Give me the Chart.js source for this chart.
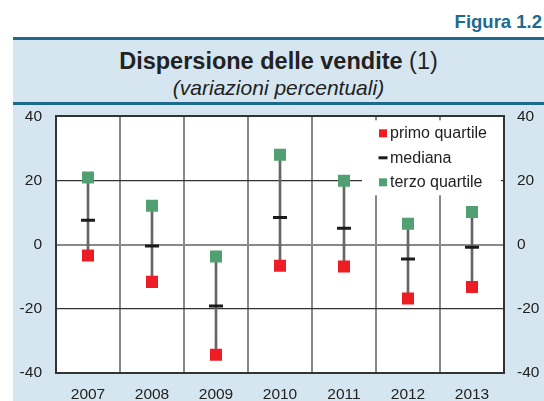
<!DOCTYPE html>
<html>
<head>
<meta charset="utf-8">
<script src="https://cdn.jsdelivr.net/npm/chart.js@4.4.1/dist/chart.umd.min.js"></script>
<style>
  body{margin:0;width:544px;height:401px;position:relative;background:#fff;font-family:"Liberation Sans",Arial,sans-serif;overflow:hidden}
  #fig{position:absolute;right:2px;top:11px;font-weight:bold;font-size:18.5px;color:#1d6a8c}
  #panel{position:absolute;left:13px;top:37px;width:531px;height:364px;background:#d5e6f0;border-top:3px solid #1d6a8c}
  #titolo{position:absolute;left:0;width:100%;top:8px;text-align:center;font-size:23.5px;color:#222}
  #sotto{position:absolute;left:0;width:100%;top:36px;text-align:center;font-size:21px;font-style:italic;color:#222}
  #sep{position:absolute;left:0;width:100%;top:62px;border-top:3px solid #1d6a8c}
  #wrap{position:absolute;left:13px;top:93px;width:531px;height:308px}
</style>
</head>
<body>
<div id="fig">Figura 1.2</div>
<div id="panel">
  <div id="titolo"><b>Dispersione delle vendite</b> (1)</div>
  <div id="sotto">(variazioni percentuali)</div>
  <div id="sep"></div>
</div>
<div id="wrap"><canvas id="chart"></canvas></div>
<script>
const anni = ["2007","2008","2009","2010","2011","2012","2013"];
const primoQuartile = [-3.4, -11.6, -34.3, -6.6, -6.8, -16.8, -13.2];
const mediana = [7.6, -0.4, -19.1, 8.5, 5.1, -4.5, -0.8];
const terzoQuartile = [20.9, 12.1, -3.7, 28.0, 19.9, 6.5, 10.2];
const yTicks = [-40, -20, 0, 20, 40];

const ROSSO = "#ee1c25";
const VERDE = "#52a072";
const NERO = "#1a1a1a";
const FONT = {family:"'Liberation Sans', Arial, sans-serif", size:15.5};

// sfondo bianco dell'area del grafico
const sfondoPlugin = {
  id:"sfondo",
  beforeDraw(chart){
    const {ctx, chartArea:a} = chart;
    ctx.save();
    ctx.fillStyle = "#fff";
    ctx.fillRect(a.left, a.top, a.right - a.left, a.bottom - a.top);
    ctx.restore();
  }
};

// legenda disegnata a mano, in alto a destra dentro l'area del grafico
const legendaPlugin = {
  id:"legenda",
  afterDraw(chart){
    const {ctx, chartArea} = chart;
    const voci = [
      {testo:"primo quartile", tipo:"rect", colore:ROSSO},
      {testo:"mediana", tipo:"line", colore:NERO},
      {testo:"terzo quartile", tipo:"rect", colore:VERDE}
    ];
    const x0 = chartArea.right - 142;
    ctx.save();
    ctx.fillStyle = "#fff";
    ctx.fillRect(x0, chartArea.top + 4, 139, 75);
    ctx.font = "16px " + FONT.family;
    ctx.textBaseline = "middle";
    voci.forEach((v,i)=>{
      const cy = chartArea.top + 17 + i*24.5;
      const cx = x0 + 21;
      ctx.fillStyle = v.colore;
      if(v.tipo === "rect"){
        ctx.fillRect(cx - 4, cy - 4, 8, 8);
      }else{
        ctx.fillRect(cx - 4.5, cy - 1.5, 9, 3);
      }
      ctx.fillStyle = "#222";
      ctx.fillText(v.testo, cx + 7, cy + 0.5);
    });
    ctx.restore();
  }
};

new Chart(document.getElementById("chart"), {
  type:"bar",
  data:{
    labels:anni,
    datasets:[
      {
        type:"bar",
        label:"intervallo",
        data:primoQuartile.map((v,i)=>[v, terzoQuartile[i]]),
        backgroundColor:"#666",
        barThickness:2,
        order:3
      },
      {
        type:"line",
        label:"mediana",
        data:mediana,
        showLine:false,
        pointStyle:"line",
        pointRadius:7,
        pointBorderWidth:3,
        pointBorderColor:NERO,
        borderColor:NERO,
        order:2
      },
      {
        type:"line",
        label:"primo quartile",
        data:primoQuartile,
        showLine:false,
        pointStyle:"rect",
        pointRadius:8.5,
        pointBorderWidth:0,
        pointBackgroundColor:ROSSO,
        order:1
      },
      {
        type:"line",
        label:"terzo quartile",
        data:terzoQuartile,
        showLine:false,
        pointStyle:"rect",
        pointRadius:8.5,
        pointBorderWidth:0,
        pointBackgroundColor:VERDE,
        order:1
      }
    ]
  },
  options:{
    responsive:true,
    maintainAspectRatio:false,
    animation:false,
    layout:{padding:{top:0}},
    plugins:{
      legend:{display:false},
      tooltip:{enabled:false}
    },
    scales:{
      x:{
        offset:true,
        grid:{offset:true, color:"#888", lineWidth:2, drawTicks:false},
        border:{display:true, color:"#333", width:2},
        ticks:{font:FONT, color:"#222", padding:12},
        afterFit(s){ s.height = 28; }
      },
      y:{
        min:-40, max:40,
        afterBuildTicks(s){ s.ticks = yTicks.map(v=>({value:v})); },
        grid:{
          drawTicks:false,
          color:c => c.tick && c.tick.value === 0 ? "#888" : "#333",
          lineWidth:c => c.tick && (c.tick.value === 0 || Math.abs(c.tick.value) === 40) ? 2 : 1.2
        },
        border:{display:true, color:"#333", width:2},
        ticks:{font:FONT, color:"#222", padding:14},
        afterFit(s){ s.width = 43; }
      },
      y2:{
        position:"right",
        min:-40, max:40,
        afterBuildTicks(s){ s.ticks = yTicks.map(v=>({value:v})); },
        grid:{drawOnChartArea:false, drawTicks:false},
        border:{display:true, color:"#333", width:2},
        ticks:{font:FONT, color:"#222", padding:13},
        afterFit(s){ s.width = 40; }
      }
    }
  },
  plugins:[sfondoPlugin, legendaPlugin]
});
</script>
</body>
</html>
